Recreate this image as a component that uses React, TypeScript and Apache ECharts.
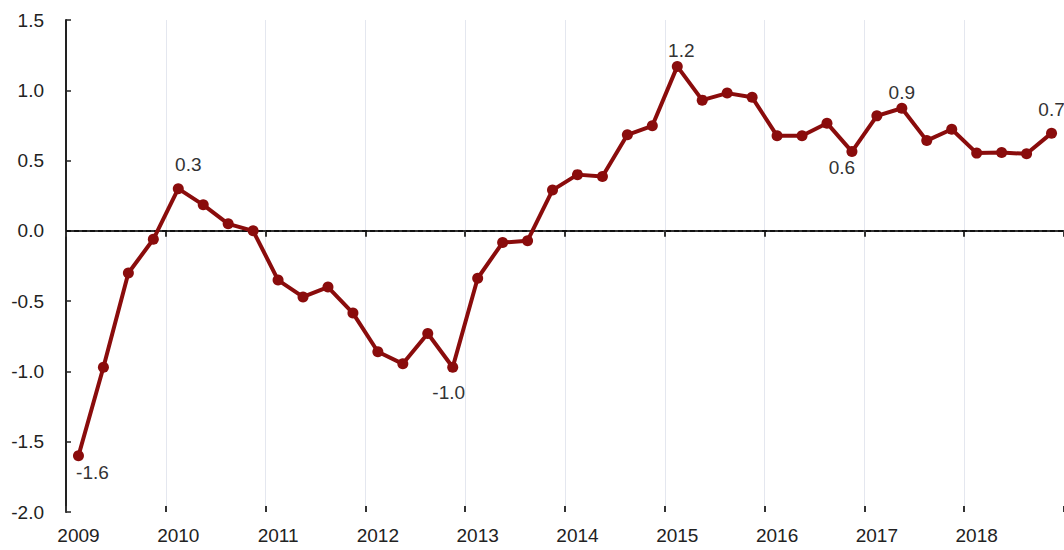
import React, { useEffect, useRef } from "react";
import * as echarts from "echarts";

const years = ["2009", "2010", "2011", "2012", "2013", "2014", "2015", "2016", "2017", "2018"];
const quarters = ["Q1", "Q2", "Q3", "Q4"];
const categories = years.flatMap((y) => quarters.map((q) => `${y} ${q}`));

const growth = [
  -1.6, -0.97, -0.3, -0.06,
  0.3, 0.185, 0.05, 0.0,
  -0.35, -0.47, -0.4, -0.585,
  -0.86, -0.946, -0.73, -0.97,
  -0.337, -0.083, -0.07, 0.29,
  0.4, 0.386, 0.683, 0.747,
  1.17, 0.93, 0.98, 0.95,
  0.676, 0.676, 0.766, 0.564,
  0.818, 0.872, 0.642, 0.723,
  0.553, 0.557, 0.548, 0.695,
];

const labelledPoints = [0, 4, 15, 24, 31, 33, 39];

const FONT = "Liberation Sans, Arial, sans-serif";
const LINE = "#8a0c0c";

const labelStyles: Record<number, any> = {
  0: { position: "bottom", distance: 2, offset: [14, 0] },
  4: { position: "top", distance: 9, offset: [10, 0] },
  15: { position: "bottom", distance: 10, offset: [-4, 0] },
  24: { position: "top", distance: 1, offset: [4, 0] },
  31: { position: "bottom", distance: 1, offset: [-10, 0] },
  33: { position: "top", distance: 1, offset: [0, 0] },
  39: { position: "top", distance: 9, offset: [0, 0] },
};

export default function App() {
  const ref = useRef<HTMLDivElement>(null);
  useEffect(() => {
    if (!ref.current) return;
    const chart = echarts.init(ref.current, null, { renderer: "svg" });
    const seriesData = growth.map((v, i) => {
      if (!labelledPoints.includes(i)) return v;
      return {
        value: v,
        label: {
          show: true,
          formatter: (p: any) => Number(p.value).toFixed(1),
          color: "#333",
          fontSize: 19,
          fontFamily: FONT,
          ...labelStyles[i],
        },
      };
    });
    chart.setOption({
      animation: false,
      backgroundColor: "#ffffff",
      grid: { left: 66, right: 0, top: 20, bottom: 38, containLabel: false },
      xAxis: [
        {
          type: "category",
          data: categories,
          boundaryGap: true,
          axisLine: { show: true, lineStyle: { color: "#333", width: 2 } },
          axisTick: { show: true, interval: 3, length: 6, inside: false, lineStyle: { color: "#333", width: 2 } },
          axisLabel: {
            interval: 3,
            margin: 14,
            color: "#222",
            fontSize: 19,
            fontFamily: FONT,
            formatter: (v: string) => v.slice(0, 4),
          },
          splitLine: { show: true, interval: 3, lineStyle: { color: "#e4e7ef", width: 1 } },
        },
        {
          type: "category",
          data: categories,
          position: "bottom",
          boundaryGap: true,
          axisLine: { show: false },
          axisTick: { show: true, interval: 3, length: 6, inside: true, lineStyle: { color: "#333", width: 2 } },
          axisLabel: { show: false },
          splitLine: { show: false },
        },
      ],
      yAxis: {
        type: "value",
        min: -2,
        max: 1.5,
        interval: 0.5,
        axisLine: { show: true, lineStyle: { color: "#222", width: 2 } },
        axisTick: { show: true, inside: true, length: 5, lineStyle: { color: "#222", width: 1.5 } },
        axisLabel: {
          margin: 22,
          color: "#222",
          fontSize: 19,
          fontFamily: FONT,
          formatter: (v: number) => v.toFixed(1),
        },
        splitLine: { show: false },
      },
      series: [
        {
          type: "line",
          xAxisIndex: 0,
          data: seriesData,
          symbol: "circle",
          symbolSize: 11,
          showAllSymbol: true,
          lineStyle: { color: LINE, width: 4 },
          itemStyle: { color: LINE },
          z: 3,
          markLine: {
            silent: true,
            symbol: "none",
            label: { show: false },
            lineStyle: { color: "#111", type: [5, 3], width: 2 },
            data: [{ yAxis: 0 }],
            z: 2,
          },
        },
      ],
    });
    return () => chart.dispose();
  }, []);
  return (
    <div
      ref={ref}
      style={{ position: "absolute", left: 0, top: 0, width: 1064, height: 550 }}
    />
  );
}
